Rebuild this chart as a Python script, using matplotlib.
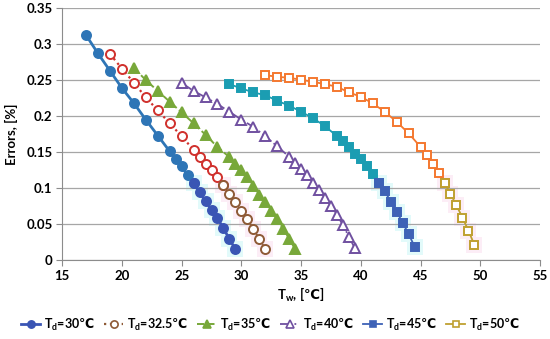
import matplotlib
matplotlib.use('Agg')
import matplotlib.pyplot as plt
import matplotlib.ticker as ticker
from matplotlib.lines import Line2D

plt.rcParams['font.family'] = ['Lato', 'DejaVu Sans']
plt.rcParams['mathtext.fontset'] = 'custom'
plt.rcParams['mathtext.rm'] = 'Lato'
plt.rcParams['mathtext.bf'] = 'Lato:bold'
plt.rcParams['mathtext.it'] = 'Lato:bold'
plt.rcParams['mathtext.sf'] = 'Noto Sans CJK SC:bold'

# ------------------------------------------------------------------------------
# data
#
x_30 = [17, 18, 19, 20, 21, 22, 23, 24, 24.5, 25, 25.5, 26, 26.5, 27, 27.5,
        28, 28.5, 29, 29.5]
y_30 = [0.3125, 0.287, 0.263, 0.239, 0.218, 0.195, 0.173, 0.151, 0.140, 0.130,
        0.118, 0.107, 0.094, 0.082, 0.070, 0.058, 0.044, 0.029, 0.015]

x_325 = [19, 20, 21, 22, 23, 24, 25, 26, 26.5, 27, 27.5, 28, 28.5, 29, 29.5,
         30, 30.5, 31, 31.5, 32]
y_325 = [0.2865, 0.266, 0.2465, 0.226, 0.208, 0.190, 0.172, 0.153, 0.143,
         0.134, 0.125, 0.115, 0.104, 0.092, 0.080, 0.0685, 0.0565, 0.043,
         0.029, 0.015]

x_35 = [21, 22, 23, 24, 25, 26, 27, 28, 29, 29.5, 30, 30.5, 31, 31.5, 32,
        32.5, 33, 33.5, 34, 34.5]
y_35 = [0.267, 0.250, 0.235, 0.220, 0.205, 0.190, 0.174, 0.157, 0.143, 0.134,
        0.125, 0.115, 0.103, 0.091, 0.080, 0.068, 0.0565, 0.0435, 0.0296,
        0.015]

x_40 = [25, 26, 27, 28, 29, 30, 31, 32, 33, 34, 34.5, 35, 35.5, 36, 36.5, 37,
        37.5, 38, 38.5, 39, 39.5]
y_40 = [0.246, 0.235, 0.226, 0.2167, 0.206, 0.195, 0.185, 0.172, 0.158,
        0.1435, 0.135, 0.127, 0.118, 0.107, 0.097, 0.0865, 0.075, 0.0625,
        0.0486, 0.0324, 0.0162]

x_45 = [29, 30, 31, 32, 33, 34, 35, 36, 37, 38, 38.5, 39, 39.5, 40, 40.5, 41,
        41.5, 42, 42.5, 43, 43.5, 44, 44.5]
y_45 = [0.2444, 0.2384, 0.2329, 0.229, 0.2213, 0.2145, 0.206, 0.197, 0.186,
        0.172, 0.165, 0.157, 0.148, 0.140, 0.1305, 0.119, 0.1076, 0.0958,
        0.081, 0.067, 0.0518, 0.036, 0.0185]

x_50 = [32, 33, 34, 35, 36, 37, 38, 39, 40, 41, 42, 43, 44, 45, 45.5, 46,
        46.5, 47, 47.5, 48, 48.5, 49, 49.5]
y_50 = [0.2569, 0.2546, 0.2532, 0.2505, 0.2476, 0.2444, 0.2407, 0.233,
        0.2268, 0.2176, 0.206, 0.192, 0.176, 0.157, 0.146, 0.134, 0.121,
        0.107, 0.092, 0.076, 0.059, 0.041, 0.021]

labels = ['30', '32.5', '35', '40', '45', '50']
x_ticks = [15, 20, 25, 30, 35, 40, 45, 50, 55]
y_ticks = [0, 0.05, 0.1, 0.15, 0.2, 0.25, 0.3, 0.35]

# styles: (x, y, upper colour, lower colour, split index, marker, filled,
#          line style, line width, patch colour)
series = [
    (x_30, y_30, '#2E75B6', '#3A55B4', 11, 'o', True, '-', 2.0, '#E2FAFA'),
    (x_325, y_325, '#D0312D', '#8E5A36', 12, 'o', False, ':', 1.6, '#FCEDF6'),
    (x_35, y_35, '#78A83A', '#78A83A', 0, '^', True, '--', 1.4, None),
    (x_40, y_40, '#7050A0', '#7050A0', 0, '^', False, '-.', 1.3, None),
    (x_45, y_45, '#1B9DB2', '#3E62B6', 16, 's', True, '-', 1.3, '#E2FAFA'),
    (x_50, y_50, '#F4782F', '#BFA030', 17, 's', False, '-', 1.3, '#FCEDF6'),
]

(figure, axes) = plt.subplots(figsize=(5.5, 3.39), dpi=100)
figure.subplots_adjust(left=0.113, right=0.982, bottom=0.233, top=0.976)

handles = []
for (xs, ys, c_hi, c_lo, split, marker, filled, ls, lw, patch) in series:
    msize = 6.5 if marker != 's' else 5.8
    mew = 1.4
    # faint square behind the lower points
    if patch is not None:
        axes.plot(xs[split:], ys[split:], linestyle='none', marker='s',
                  markersize=11, color=patch, markeredgewidth=0, zorder=0.3)
    parts = [(xs[:split + 1], ys[:split + 1], c_hi),
             (xs[split:], ys[split:], c_lo)]
    if split == 0:
        parts = [(xs, ys, c_hi)]
    for (px, py, col) in parts:
        axes.plot(px, py, linestyle=ls, linewidth=lw, color=col,
                  marker=marker, markersize=msize, markeredgewidth=mew,
                  markeredgecolor=col,
                  markerfacecolor=col if filled else 'white', zorder=3)
    handles.append(Line2D([], [], linestyle=ls, linewidth=lw, color=c_lo,
                          marker=marker, markersize=msize * 0.8,
                          markeredgewidth=1.2, markeredgecolor=c_lo,
                          markerfacecolor=c_lo if filled else 'white'))

axes.set_xlim(15, 55)
axes.set_ylim(0, 0.35)
axes.set_xticks(x_ticks)
axes.set_yticks(y_ticks)
axes.yaxis.set_major_formatter(ticker.FuncFormatter(lambda v, p: '{:g}'.format(v)))
axes.set_axisbelow(True)
axes.grid(axis='y', color='#A6A6A6', linewidth=0.9)
for side in ['top', 'right']:
    axes.spines[side].set_visible(False)
for side in ['left', 'bottom']:
    axes.spines[side].set_color('#8C8C8C')
axes.tick_params(length=4, color='#8C8C8C', labelsize=9.5, pad=3)
for lab in axes.get_xticklabels() + axes.get_yticklabels():
    lab.set_fontweight('bold')

axes.set_ylabel('Errors, [%]', fontsize=9.5, fontweight='bold', labelpad=6)
axes.set_xlabel(r'$\mathbf{T_w}$, [$\mathsf{℃}$]', fontsize=9.5,
                fontweight='bold', labelpad=3)

figure.legend(handles,
              [r'$\mathbf{T_d}$=' + s + r'$\mathsf{℃}$' for s in labels],
              loc='center', bbox_to_anchor=(0.492, 0.042), ncol=6,
              frameon=False, handlelength=1.5, handletextpad=0.3,
              columnspacing=0.75, prop={'size': 9, 'weight': 'bold'})

plt.savefig('out.png', dpi=100)
